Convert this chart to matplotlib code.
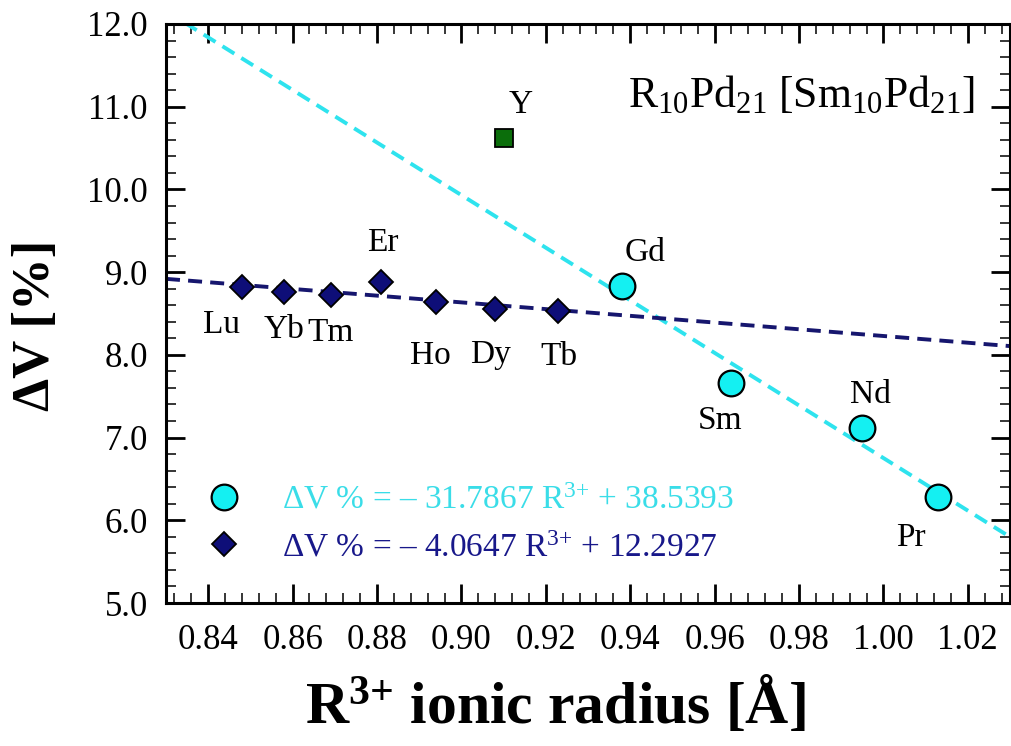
import matplotlib
matplotlib.use("Agg")
import matplotlib.pyplot as plt
from matplotlib.lines import Line2D
from matplotlib.ticker import MultipleLocator, FormatStrFormatter
import numpy as np

plt.rcParams['font.family'] = ['Liberation Serif', 'DejaVu Serif']
plt.rcParams['mathtext.fontset'] = 'custom'
plt.rcParams['mathtext.rm'] = 'Liberation Serif'
plt.rcParams['mathtext.it'] = 'Liberation Serif:italic'
plt.rcParams['mathtext.bf'] = 'Liberation Serif:bold'

# heavy rare earths (diamonds)
heavy_names = ['Lu', 'Yb', 'Tm', 'Er', 'Ho', 'Dy', 'Tb']
heavy_r = [0.848, 0.858, 0.869, 0.881, 0.894, 0.908, 0.923]
heavy_dv = [8.82, 8.76, 8.72, 8.88, 8.64, 8.55, 8.53]

# light rare earths (circles)
light_names = ['Gd', 'Sm', 'Nd', 'Pr']
light_r = [0.938, 0.964, 0.995, 1.013]
light_dv = [8.83, 7.66, 7.11, 6.28]

# yttrium
y_name = 'Y'
y_r = [0.910]
y_dv = [10.62]

# linear fits: dV = a*R + b
light_fit = (-31.7867, 38.5393)
heavy_fit = (-4.0647, 12.2927)

cyan_line = '#2EE3EE'
cyan_fill = '#14F0F2'
cyan_text = '#3ADDE8'
navy_line = '#16166E'
navy_fill = '#0E0E78'
navy_text = '#18188A'
green_fill = '#0B6E0B'

# label offsets in points (dx, dy)
offsets = {'Lu': (-15, -27), 'Yb': (0, -27), 'Tm': (0, -27), 'Er': (1, 28),
           'Ho': (-4, -39), 'Dy': (-3, -33), 'Tb': (0, -33),
           'Gd': (17, 24), 'Sm': (-8, -27), 'Nd': (6, 24), 'Pr': (-20, -29),
           'Y': (12, 24)}

fig = plt.figure(figsize=(10.11, 7.46), dpi=100)
ax = fig.add_axes([166/1011, 1-603/746, (1010-166)/1011, (603-24)/746])

xmin, xmax = 0.83, 1.03
xs = np.array([xmin, xmax])

# fit lines
ax.plot(xs, light_fit[0]*xs + light_fit[1], color=cyan_line, lw=2.8,
        dashes=(3.6, 2.1), zorder=2)
ax.plot(xs, heavy_fit[0]*xs + heavy_fit[1], color=navy_line, lw=2.8,
        dashes=(3.6, 2.1), zorder=2)

# data points
ax.plot(heavy_r, heavy_dv, ls='none', marker='D', ms=12.5, mfc=navy_fill,
        mec='black', mew=1.3, zorder=3)
ax.plot(light_r, light_dv, ls='none', marker='o', ms=18.5, mfc=cyan_fill,
        mec='black', mew=1.6, zorder=3)
ax.plot(y_r, y_dv, ls='none', marker='s', ms=13.5, mfc=green_fill,
        mec='black', mew=1.3, zorder=3)

for names, xr, yv in [(heavy_names, heavy_r, heavy_dv),
                      (light_names, light_r, light_dv),
                      ([y_name], y_r, y_dv)]:
    for n, xx, yy in zip(names, xr, yv):
        ax.annotate(n, (xx, yy), xytext=offsets[n], textcoords='offset points',
                    ha='center', va='center', fontsize=24)

ax.set_xlim(xmin, xmax)
ax.set_ylim(5.0, 12.0)
ax.xaxis.set_major_locator(MultipleLocator(0.02))
ax.xaxis.set_minor_locator(MultipleLocator(0.004))
ax.yaxis.set_major_locator(MultipleLocator(1.0))
ax.yaxis.set_minor_locator(MultipleLocator(0.2))
ax.xaxis.set_major_formatter(FormatStrFormatter('%.2f'))
ax.yaxis.set_major_formatter(FormatStrFormatter('%.1f'))

ax.tick_params(which='both', direction='in', top=True, right=True)
ax.tick_params(which='major', length=13.5, width=2.0, labelsize=25)
ax.tick_params(which='minor', length=7.5, width=1.1)
ax.tick_params(axis='x', which='major', pad=15)
ax.tick_params(axis='y', which='major', pad=13)
for s in ax.spines.values():
    s.set_linewidth(2.2)

ax.set_xlabel(r'R$^{\mathbf{3{+}}}$ ionic radius [Å]', fontsize=43, fontweight='bold')
ax.set_ylabel('ΔV [%]', fontsize=38, fontweight='bold')
ax.xaxis.set_label_coords(0.461, -0.125)
ax.yaxis.set_label_coords(-0.126, 0.48)

ax.text(0.9585, 0.877, r'R$_{10}$Pd$_{21}$ [Sm$_{10}$Pd$_{21}$]',
        transform=ax.transAxes, ha='right', va='center', fontsize=31.5)

handles = [Line2D([], [], ls='none', marker='o', ms=18.5, mfc=cyan_fill,
                  mec='black', mew=1.6),
           Line2D([], [], ls='none', marker='D', ms=12.5, mfc=navy_fill,
                  mec='black', mew=1.3)]
labels = ['ΔV % = – {:.4f} R$^{{3{{+}}}}$ + {:.4f}'.format(abs(a), b)
          for a, b in [light_fit, heavy_fit]]
leg = ax.legend(handles, labels, loc='lower left', bbox_to_anchor=(0.049, 0.069),
                frameon=False, fontsize=24, handlelength=1.0, handletextpad=1.23,
                labelspacing=0.5, borderpad=0, borderaxespad=0, numpoints=1)
for t, c in zip(leg.get_texts(), [cyan_text, navy_text]):
    t.set_color(c)

fig.savefig('out.png', dpi=100)
